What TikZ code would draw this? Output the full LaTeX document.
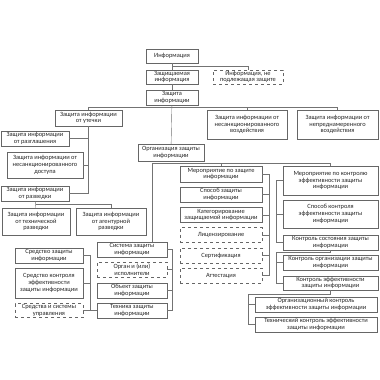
\documentclass[tikz,border=0pt]{standalone}
\usepackage{fontspec}
\newfontfamily\boxfont{Carlito}
\tikzset{
  box/.style={draw=black!60, fill=white, text=black!85, align=center, inner sep=0.5pt,
    font=\boxfont\fontsize{6.4}{6.7}\selectfont},
  dbox/.style={box, dashed},
  link/.style={draw=black!55, line width=0.4pt}
}
\begin{document}
\begin{tikzpicture}[x=1pt, y=-1pt]
		\useasboundingbox (0,0) rectangle (380,380);
		
		% Top
		\node[box, minimum width=52, minimum height=14] (info) at (172,56) {Информация};
		\node[box, minimum width=52, minimum height=14] (prot) at (172,77) {Защищаемая\\информация};
		\node[dbox, minimum width=70, minimum height=14] (notprot) at (248,77) {Информация, не\\подлежащая защите};
		\node[box, minimum width=52, minimum height=15] (zi) at (172,97.5) {Защита\\информации};
		
		% Kinds of protection
		\node[box, minimum width=67, minimum height=16] (leak) at (88.5,118) {Защита информации\\от утечки};
		\node[box, minimum width=80, minimum height=29] (nsv) at (247,124.5) {Защита информации от\\несанкционированного\\воздействия};
		\node[box, minimum width=81, minimum height=29] (nnv) at (337.5,124.5) {Защита информации от\\непреднамеренного\\воздействия};
		\node[box, minimum width=68, minimum height=15] (razgl) at (35,138.5) {Защита информации\\от разглашения};
		\node[box, minimum width=76, minimum height=26] (nsd) at (45,165) {Защита информации от\\несанкционированного\\доступа};
		\node[box, minimum width=68, minimum height=15] (razv) at (35,193.5) {Защита информации\\от разведки};
		\node[box, minimum width=68, minimum height=27] (tech) at (36,221.5) {Защита информации\\от технической\\разведки};
		\node[box, minimum width=70, minimum height=27] (agent) at (111,221.5) {Защита информации\\от агентурной\\разведки};
		
		% Organisation
		\node[box, minimum width=66, minimum height=17] (org) at (171,152.5) {Организация защиты\\информации};
		\node[box, minimum width=82, minimum height=16] (mzi) at (221,174) {Мероприятие по защите\\информации};
		\node[box, minimum width=82, minimum height=15] (szi) at (221,194.5) {Способ защиты\\информации};
		\node[box, minimum width=82, minimum height=15] (kat) at (221,215) {Категорирование\\защищаемой информации};
		\node[dbox, minimum width=82, minimum height=15] (lic) at (221,235) {Лицензирование};
		\node[dbox, minimum width=82, minimum height=15] (cert) at (221,255.5) {Сертификация};
		\node[dbox, minimum width=82, minimum height=15] (att) at (221,275.5) {Аттестация};
		
		% Control
		\node[box, minimum width=95, minimum height=29] (mke) at (330.5,180.5) {Мероприятие по контролю\\эффективности защиты\\информации};
		\node[box, minimum width=95, minimum height=28] (ske) at (330.5,214) {Способ контроля\\эффективности защиты\\информации};
		\node[box, minimum width=95, minimum height=15] (ksost) at (330.5,242.5) {Контроль состояния защиты\\информации};
		\node[box, minimum width=95, minimum height=15] (korg) at (330.5,262.5) {Контроль организации защиты\\информации};
		\node[box, minimum width=95, minimum height=14] (keff) at (330.5,283) {Контроль эффективности\\защиты информации};
		\node[box, minimum width=122, minimum height=15] (orgk) at (316,304.5) {Организационный контроль\\эффективности защиты информации};
		\node[box, minimum width=122, minimum height=15] (techk) at (316,324.5) {Технический контроль эффективности\\защиты информации};
		
		% System
		\node[box, minimum width=70, minimum height=15] (sys) at (132,249.5) {Система защиты\\информации};
		\node[dbox, minimum width=70, minimum height=15] (organ) at (132,269.5) {Орган и (или)\\исполнители};
		\node[box, minimum width=70, minimum height=15] (obj) at (132,290.5) {Объект защиты\\информации};
		\node[box, minimum width=70, minimum height=15] (techn) at (132,310.5) {Техника защиты\\информации};
		\node[box, minimum width=68, minimum height=15] (sr) at (49,255.5) {Средство защиты\\информации};
		\node[box, minimum width=68, minimum height=30] (srk) at (49,283) {Средство контроля\\эффективности\\защиты информации};
		\node[dbox, minimum width=68, minimum height=14] (srsu) at (49,310.5) {Средства и системы\\управления};
		
		% Junctions
		\coordinate (j0) at (172,66);
		\coordinate (j1) at (172,107);
		\coordinate (j2) at (36,204);
		\coordinate (j3) at (171,163);
		\coordinate (j4) at (152,163);
		\coordinate (j5) at (276,252);
		\coordinate (j6) at (248,294);
		\coordinate (sL) at (269,174);
		\coordinate (sR) at (276,0);
		\coordinate (sS) at (172,0);
		\coordinate (sM) at (90,0);
		
		% Links
		\draw[link] (info) -- (prot);
		\draw[link] (prot) -- (zi);
		\draw[link] (j0) -| (notprot);
		\draw[link] (zi) -- (org);
		\draw[link] (j1) -| (leak);
		\draw[link] (j1) -| (nsv);
		\draw[link] (j1) -| (nnv);
		\draw[link] (leak) |- (razgl);
		\draw[link] (leak) |- (nsd);
		\draw[link] (leak) |- (razv);
		\draw[link] (razv) -- (tech);
		\draw[link] (j2) -| (agent);
		\draw[link] (j4) -| (mke);
		\draw[link] (j3) -| (mzi);
		\draw[link] (j4) -- (j4 |- sys.north);
		\draw[link] (mzi) -- (sL) |- (att);
		\foreach \n in {szi,kat,lic,cert}
			\draw[link] (\n) -- (\n -| sL);
		\draw[link] (mke) -- (mke -| sR) |- (ksost);
		\draw[link] (ske) -- (ske -| sR);
		\draw[link] (ksost) |- (j5) |- (keff);
		\draw[link] (j5) |- (korg);
		\draw[link] (keff) |- (j6) |- (techk);
		\draw[link] (j6) |- (orgk);
		\draw[link] (sys) -- (sys -| sS) |- (techn);
		\draw[link] (organ) -- (organ -| sS);
		\draw[link] (obj) -- (obj -| sS);
		\draw[link] (techn) -- (techn -| sM) |- (sr);
		\draw[link] (srk) -- (srk -| sM);
		\draw[link] (srsu) -- (srsu -| sM);
	\end{tikzpicture}
\end{document}
